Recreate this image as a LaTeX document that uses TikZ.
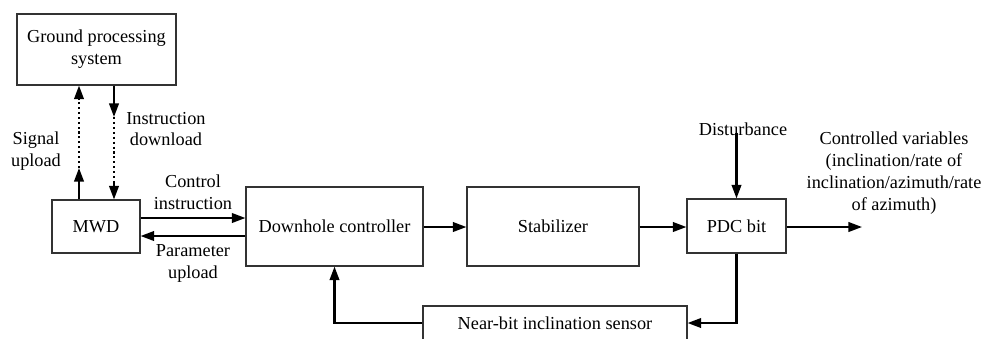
\documentclass[tikz,border=0pt]{standalone}
\usepackage{fontspec}
\setmainfont{Liberation Serif}
\usetikzlibrary{positioning,arrows.meta}

\begin{document}
\begin{tikzpicture}[x=0.025cm,y=-0.025cm,
        % define styles
        blk/.style={
             draw=black!80,
             line width=0.8pt,
             align=center,
             inner sep=2pt,
             font=\fontsize{13}{15.6}\selectfont
        },
        lbl/.style={
             align=center,
             inner sep=0pt,
             font=\fontsize{13}{15.6}\selectfont
        },
        arr/.style={
             line width=1.5pt,
             -{Triangle[length=3.4mm,width=2.4mm]}
        },
        dotline/.style={
             line width=1.5pt,
             dotted
        }
    ]
        \useasboundingbox (0,0) rectangle (983,338);

        % blocks
        \node[blk,minimum width=3.975cm,minimum height=1.775cm] at (96.5,49.5) (ground) {Ground processing\\system};
        \node[blk,minimum width=2.2cm,minimum height=1.325cm] at (96,226.5) (mwd) {MWD};
        \node[blk,minimum width=4.425cm,minimum height=1.975cm] at (334.5,226.5) (ctrl) {Downhole controller};
        \node[blk,minimum width=4.3cm,minimum height=1.975cm] at (553,226.5) (stab) {Stabilizer};
        \node[blk,minimum width=2.475cm,minimum height=1.35cm] at (736.5,226) (pdc) {PDC bit};
        \node[blk,minimum width=6.6cm,minimum height=0.85cm] at (555,323) (sensor) {Near-bit inclination sensor};

        % labels
        \node[lbl] at (36,151) (sigup) {Signal\\upload};
        \node[lbl] at (166,129) (insdown) {Instruction\\download};
        \node[lbl] at (193,192) (ctrlins) {Control\\instruction};
        \node[lbl] at (193,263) (parup) {Parameter\\upload};
        \node[lbl] at (743,129) (dist) {Disturbance};
        \node[lbl] at (894,173) (outvar) {Controlled variables\\(inclination/rate of\\inclination/azimuth/rate\\of azimuth)};

        % helper points
        \coordinate (su1) at (79,168);
        \coordinate (su2) at (79,100);
        \coordinate (id1) at (114,117);
        \coordinate (id2) at (114,183);
        \coordinate (ci) at (0,218);
        \coordinate (pu) at (0,236);
        \coordinate (out) at (862,227);

        % ground <-> MWD
        \draw[arr] (mwd.north -| su1) -- (su1);
        \draw[dotline] (su1) -- (su2);
        \draw[arr] (su2) -- (ground.south -| su2);
        \draw[arr] (ground.south -| id1) -- (id1);
        \draw[dotline] (id1) -- (id2);
        \draw[arr] (id2) -- (mwd.north -| id2);

        % forward path
        \draw[arr] (mwd.east |- ci) -- (ctrl.west |- ci);
        \draw[arr] (ctrl.west |- pu) -- (mwd.east |- pu);
        \draw[arr] (ctrl.east |- out) -- (stab.west |- out);
        \draw[arr] (stab.east |- out) -- (pdc.west |- out);
        \draw[arr] (pdc.east |- out) -- (out);
        \draw[arr] (dist.south -| pdc.north) ++(0,-3) -- (pdc.north);

        % feedback
        \draw[arr] (pdc.south) |- (sensor.east);
        \draw[arr] (sensor.west) -| (ctrl.south);
\end{tikzpicture}
\end{document}
